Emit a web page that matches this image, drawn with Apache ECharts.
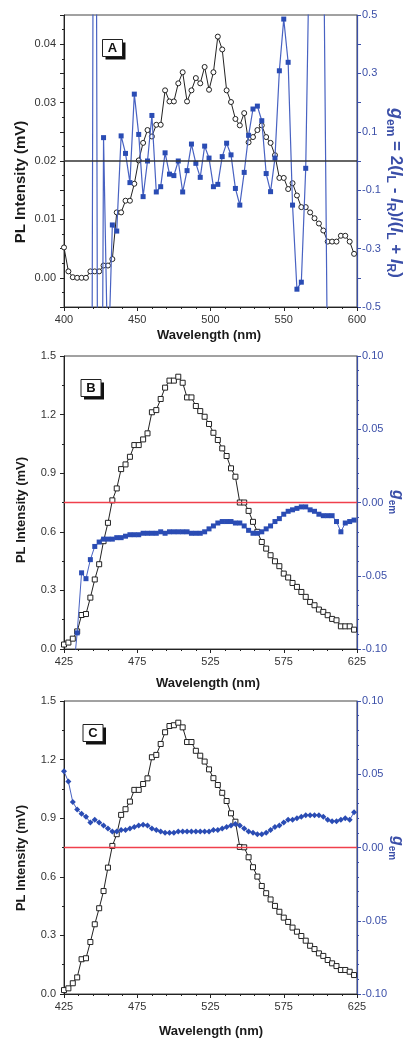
<!DOCTYPE html>
<html><head><meta charset="utf-8">
<script src="https://cdn.jsdelivr.net/npm/echarts@6/dist/echarts.min.js"></script>
<style>html,body{margin:0;padding:0;background:#fff}#c{width:410px;height:1038px}</style>
</head><body><div id="c"></div>
<script>
// ---------- Axis ranges ----------
const xRangeA = [400, 600];
const xRangeBC = [425, 625];

// ---------- Panel A ----------
const waveA = [400,403,406,409,412,415,418,421,424,427,430,433,436,439,442,445,448,451,454,457,460,463,466,469,472,475,478,481,484,487,490,493,496,499,502,505,508,511,514,517,520,523,526,529,532,535,538,541,544,547,550,553,556,559,562,565,568,571,574,577,580,583,586,589,592,595,598];
const plA = [0.0052,0.0011,0.0001,0.0000,0.0000,0.0000,0.0011,0.0011,0.0011,0.0021,
             0.0021,0.0032,0.0112,0.0112,0.0132,0.0132,0.0161,0.0201,0.0231,0.0253,
             0.0242,0.0262,0.0262,0.0321,0.0302,0.0302,0.0333,0.0352,0.0302,0.0321,
             0.0342,0.0333,0.0361,0.0322,0.0352,0.0413,0.0391,0.0321,0.0301,0.0272,
             0.0261,0.0282,0.0232,0.0241,0.0253,0.0261,0.0241,0.0231,0.0210,0.0171,
             0.0171,0.0152,0.0162,0.0141,0.0121,0.0121,0.0112,0.0102,0.0093,0.0081,
             0.0062,0.0062,0.0062,0.0072,0.0072,0.0062,0.0041];
const waveAg = [418,421,424,427,430,433,436,439,442,445,448,451,454,457,460,463,466,469,472,475,478,481,484,487,490,493,496,499,502,505,508,511,514,517,520,523,526,529,532,535,538,541,544,547,550,553,556,559,562,565,568,571,574,577,580];
const gA = [-3.0,3.0,-3.0,0.080,-0.73,-0.219,-0.240,0.086,0.026,-0.074,
            0.229,0.091,-0.122,0.000,0.156,-0.106,-0.088,0.028,-0.045,-0.050,
            0.000,-0.106,-0.033,0.058,-0.008,-0.056,0.051,0.010,-0.088,-0.080,
            0.015,0.061,0.021,-0.094,-0.151,-0.039,0.088,0.178,0.188,0.138,
            -0.043,-0.105,0.010,0.309,0.486,0.338,-0.151,-0.439,-0.415,-0.025,
            0.9,1.5,1.5,0.9,-0.8];

// ---------- Panel B ----------
const waveB = [425,428,431,434,437,440,443,446,449,452,455,458,461,464,467,470,473,476,479,482,485,488,491,494,497,500,503,506,509,512,515,518,521,524,527,530,533,536,539,542,545,548,551,554,557,560,563,566,569,572,575,578,581,584,587,590,593,596,599,602,605,608,611,614,617,620,623];
const plB = [0.023,0.033,0.053,0.090,0.174,0.179,0.263,0.356,0.434,0.552,
             0.646,0.761,0.822,0.921,0.945,0.984,1.044,1.044,1.073,1.104,
             1.212,1.223,1.280,1.338,1.374,1.374,1.394,1.363,1.288,1.288,
             1.244,1.218,1.189,1.152,1.107,1.070,1.027,0.988,0.925,0.882,
             0.750,0.750,0.707,0.651,0.600,0.548,0.514,0.480,0.449,0.424,
             0.386,0.366,0.338,0.318,0.292,0.267,0.241,0.224,0.202,0.190,
             0.173,0.154,0.147,0.116,0.116,0.116,0.099];
const waveBg = [431,434,437,440,443,446,449,452,455,458,461,464,467,470,473,476,479,482,485,488,491,494,497,500,503,506,509,512,515,518,521,524,527,530,533,536,539,542,545,548,551,554,557,560,563,566,569,572,575,578,581,584,587,590,593,596,599,602,605,608,611,614,617,620,623];
const gB = [-0.120,-0.089,-0.048,-0.052,-0.039,-0.030,-0.027,-0.025,-0.025,-0.025,
            -0.024,-0.024,-0.023,-0.022,-0.022,-0.022,-0.021,-0.021,-0.021,-0.021,
            -0.020,-0.021,-0.020,-0.020,-0.020,-0.020,-0.020,-0.021,-0.021,-0.021,
            -0.020,-0.018,-0.016,-0.014,-0.013,-0.013,-0.013,-0.014,-0.014,-0.016,
            -0.019,-0.021,-0.021,-0.020,-0.018,-0.016,-0.013,-0.011,-0.008,-0.006,
            -0.005,-0.004,-0.003,-0.003,-0.005,-0.006,-0.008,-0.009,-0.009,-0.009,
            -0.013,-0.020,-0.014,-0.013,-0.012];

// ---------- Panel C ----------
const waveC = [425,428,431,434,437,440,443,446,449,452,455,458,461,464,467,470,473,476,479,482,485,488,491,494,497,500,503,506,509,512,515,518,521,524,527,530,533,536,539,542,545,548,551,554,557,560,563,566,569,572,575,578,581,584,587,590,593,596,599,602,605,608,611,614,617,620,623];
const plC = [0.020,0.029,0.055,0.085,0.178,0.183,0.266,0.357,0.439,0.527,
             0.647,0.758,0.818,0.917,0.946,0.985,1.045,1.045,1.075,1.104,
             1.212,1.224,1.280,1.340,1.372,1.376,1.389,1.365,1.290,1.290,
             1.245,1.220,1.190,1.150,1.105,1.070,1.030,0.988,0.925,0.882,
             0.753,0.751,0.700,0.649,0.601,0.553,0.516,0.484,0.451,0.421,
             0.391,0.369,0.340,0.319,0.297,0.273,0.247,0.230,0.208,0.195,
             0.174,0.157,0.143,0.123,0.123,0.114,0.097];
const gC = [0.052,0.045,0.031,0.026,0.023,0.021,0.017,0.019,0.017,0.015,
            0.013,0.011,0.011,0.012,0.012,0.013,0.014,0.015,0.0155,0.015,
            0.013,0.012,0.011,0.010,0.010,0.010,0.011,0.011,0.011,0.011,
            0.011,0.011,0.011,0.011,0.012,0.012,0.013,0.014,0.015,0.016,
            0.015,0.013,0.011,0.010,0.009,0.009,0.010,0.012,0.014,0.015,
            0.017,0.019,0.019,0.020,0.021,0.022,0.022,0.022,0.022,0.021,
            0.019,0.018,0.018,0.019,0.020,0.019,0.024];

const FONT = '"Liberation Sans", Arial, sans-serif';
const BLK = '#222';
const BLUE_AX = '#3b4fa8';
const BLUE_LN = '#4862c2';
const BLUE_PT = '#2a4cb4';
const RED = '#f0404c';
const pairs = (xs, ys) => xs.map((x, i) => [x, ys[i]]);

function xAx(gi, range) {
  return {type:'value', gridIndex:gi, min:range[0], max:range[1], interval:50,
    axisLine:{show:true, onZero:false, lineStyle:{color:BLK, width:1}},
    axisTick:{show:true, length:4, lineStyle:{color:BLK}},
    minorTick:{show:true, splitNumber:5, length:2, lineStyle:{color:BLK}},
    splitLine:{show:false}, minorSplitLine:{show:false},
    axisLabel:{color:'#333', fontSize:11, fontFamily:FONT, margin:7}};
}
function yLeft(gi, min, max, interval, fmt, minorSplit) {
  return {type:'value', gridIndex:gi, position:'left', min:min, max:max, interval:interval,
    axisLine:{show:true, onZero:false, lineStyle:{color:BLK, width:1}},
    axisTick:{show:true, length:4, lineStyle:{color:BLK}},
    minorTick:{show:true, splitNumber:minorSplit, length:2, lineStyle:{color:BLK}},
    splitLine:{show:false}, minorSplitLine:{show:false},
    axisLabel:{color:'#333', fontSize:11, fontFamily:FONT, margin:8, formatter:fmt}};
}
function yRight(gi, min, max, interval, fmt, minorSplit) {
  return {type:'value', gridIndex:gi, position:'right', min:min, max:max, interval:interval,
    axisLine:{show:true, onZero:false, lineStyle:{color:BLUE_AX, width:1.2}},
    axisTick:{show:true, length:4, lineStyle:{color:BLUE_AX}},
    minorTick:{show:minorSplit > 1, splitNumber:minorSplit, length:2, lineStyle:{color:BLUE_AX}},
    splitLine:{show:false}, minorSplitLine:{show:false},
    axisLabel:{color:BLUE_AX, fontSize:11, fontFamily:FONT, margin:5, formatter:fmt}};
}

const fmtA_left = v => (Math.abs(Math.round(v * 1000)) % 10 === 0) ? v.toFixed(2) : '';
const fmtA_right = v => (Math.abs(Math.round(v * 10)) % 2 === 1) ? v.toFixed(1) : '';
const fmt1 = v => v.toFixed(1);
const fmt2 = v => v.toFixed(2);

// zero reference line drawn as its own series across the x range, on a top layer
function zeroSeries(xi, yi, range, color) {
  return {type:'line', xAxisIndex:xi, yAxisIndex:yi, data:[[range[0], 0], [range[1], 0]],
    symbol:'none', zlevel:1, z:5, silent:true, lineStyle:{color:color, width:1.4, type:'solid'}};
}

const grids = [
  {left:64, right:53, top:15, height:292},
  {left:64, right:53, top:356, height:293},
  {left:64, right:53, top:701, height:293}
].map(g => Object.assign(g, {show:true, borderColor:'#444', borderWidth:1, backgroundColor:'transparent'}));

function box(x, y, letter) {
  return [
    {type:'rect', z:100, shape:{x:x+3, y:y+3, width:20, height:17}, style:{fill:'#111'}},
    {type:'rect', z:101, shape:{x:x, y:y, width:20, height:17}, style:{fill:'#fff', stroke:'#222', lineWidth:1}},
    {type:'text', z:102, x:x+10, y:y+9, style:{text:letter, font:'bold 13px ' + FONT, fill:'#111', align:'center', verticalAlign:'middle'}}
  ];
}
function leftTitle(x, y, size) {
  return {type:'text', z:100, x:x, y:y, rotation:Math.PI/2,
    style:{text:'PL Intensity (mV)', font:'bold ' + size + 'px ' + FONT, fill:'#1a1a1a', align:'center', verticalAlign:'middle'}};
}
function bottomTitle(x, y) {
  return {type:'text', z:100, x:x, y:y,
    style:{text:'Wavelength (nm)', font:'bold 13px ' + FONT, fill:'#1a1a1a', align:'center', verticalAlign:'middle'}};
}
function richSet(main, sub) {
  return {
    g:{fontSize:main + 1, fontWeight:'bold', fontStyle:'italic', fontFamily:FONT, fill:BLUE_AX, lineHeight:main + 6},
    s:{fontSize:sub, fontWeight:'bold', fontFamily:FONT, fill:BLUE_AX, lineHeight:main + 6, verticalAlign:'bottom', padding:[main - 6,0,0,0]},
    n:{fontSize:main, fontWeight:'bold', fontFamily:FONT, fill:BLUE_AX, lineHeight:main + 6},
    i:{fontSize:main, fontWeight:'bold', fontStyle:'italic', fontFamily:FONT, fill:BLUE_AX, lineHeight:main + 6}
  };
}
function rightTitle(x, y, text, main, sub) {
  return {type:'text', z:100, x:x, y:y, rotation:-Math.PI/2,
    style:{text:text, rich:richSet(main, sub), align:'center', verticalAlign:'middle'}};
}

const option = {
  animation:false,
  backgroundColor:'#fff',
  grid: grids,
  xAxis: [xAx(0, xRangeA), xAx(1, xRangeBC), xAx(2, xRangeBC)],
  yAxis: [
    yLeft(0, -0.005, 0.045, 0.005, fmtA_left, 2),
    yRight(0, -0.5, 0.5, 0.1, fmtA_right, 1),
    yLeft(1, 0, 1.5, 0.3, fmt1, 2),
    yRight(1, -0.1, 0.1, 0.05, fmt2, 5),
    yLeft(2, 0, 1.5, 0.3, fmt1, 2),
    yRight(2, -0.1, 0.1, 0.05, fmt2, 5)
  ],
  series: [
    {type:'line', xAxisIndex:0, yAxisIndex:0, data:pairs(waveA, plA), symbol:'circle', symbolSize:5,
      lineStyle:{color:BLK, width:1}, itemStyle:{color:'#fff', borderColor:BLK, borderWidth:1}, z:3},
    {type:'line', xAxisIndex:0, yAxisIndex:1, data:pairs(waveAg, gA), symbol:'rect', symbolSize:5, clip:true,
      lineStyle:{color:BLUE_LN, width:1.2}, itemStyle:{color:BLUE_PT, borderWidth:0}, z:4},
    {type:'line', xAxisIndex:1, yAxisIndex:2, data:pairs(waveB, plB), symbol:'rect', symbolSize:5,
      lineStyle:{color:BLK, width:1}, itemStyle:{color:'#fff', borderColor:BLK, borderWidth:1}, z:3},
    {type:'line', xAxisIndex:1, yAxisIndex:3, data:pairs(waveBg, gB), symbol:'rect', symbolSize:5, clip:true,
      lineStyle:{color:BLUE_LN, width:1}, itemStyle:{color:BLUE_PT, borderWidth:0}, z:4},
    {type:'line', xAxisIndex:2, yAxisIndex:4, data:pairs(waveC, plC), symbol:'rect', symbolSize:5,
      lineStyle:{color:BLK, width:1}, itemStyle:{color:'#fff', borderColor:BLK, borderWidth:1}, z:3},
    {type:'line', xAxisIndex:2, yAxisIndex:5, data:pairs(waveC, gC), symbol:'diamond', symbolSize:6, clip:true,
      lineStyle:{color:BLUE_LN, width:1}, itemStyle:{color:BLUE_PT, borderWidth:0}, z:4},
    zeroSeries(0, 1, xRangeA, '#333333'),
    zeroSeries(1, 3, xRangeBC, RED),
    zeroSeries(2, 5, xRangeBC, RED)
  ],
  graphic: [].concat(
    box(102.5, 39.5, 'A'), box(81, 379.5, 'B'), box(83, 724.5, 'C'),
    [leftTitle(21, 182, 15), leftTitle(21, 510, 13), leftTitle(21, 858, 13),
     bottomTitle(209, 335), bottomTitle(208, 683), bottomTitle(211, 1031),
     rightTitle(396, 193, '{g|g}{s|em}{n| = 2(}{i|I}{s|L}{n| - }{i|I}{s|R}{n|)/(}{i|I}{s|L}{n| + }{i|I}{s|R}{n|)}', 17, 12),
     rightTitle(397, 502, '{g|g}{s|em}', 15, 10),
     rightTitle(397, 848, '{g|g}{s|em}', 15, 10)]
  )
};

const chart = echarts.init(document.getElementById('c'), null, {renderer:'canvas'});
chart.setOption(option);
</script>
</body></html>
